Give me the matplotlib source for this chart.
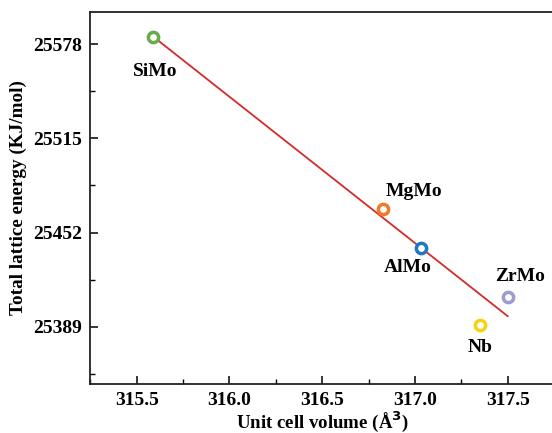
import matplotlib
matplotlib.use("Agg")
import matplotlib.pyplot as plt
from matplotlib.ticker import MultipleLocator, FixedLocator

# Data
names = ["SiMo", "MgMo", "AlMo", "ZrMo", "Nb"]
volume = [315.59, 316.83, 317.03, 317.50, 317.35]
energy = [25583.0, 25468.0, 25441.5, 25408.5, 25390.0]
colors = ["#6aab4c", "#f07a25", "#1f78c4", "#9d9bcf", "#f5d313"]
fit_x = [315.59, 317.50]
fit_y = [25583.0, 25396.0]
yticks = [25389, 25452, 25515, 25578]
xticks = [315.5, 316.0, 316.5, 317.0, 317.5]
label_offsets = [(1, -25), (22, 12), (-9, -14), (9, 15), (0, -16)]

plt.rcParams['font.family'] = ['Liberation Serif', 'DejaVu Serif']
plt.rcParams['font.weight'] = 'bold'

fig = plt.figure(figsize=(5.52, 4.33), dpi=100)
ax = fig.add_axes([90/552, (433-384)/433, (555-90)/552, (384-11.7)/433])

ax.plot(fit_x, fit_y, color="#d42a2a", lw=1.3, zorder=2)
for n, x, y, c, off in zip(names, volume, energy, colors, label_offsets):
    ax.plot([x], [y], 'o', ms=7.4, mfc='white', mec=c, mew=2.5, zorder=3)
    ax.annotate(n, (x, y), xytext=off, textcoords='offset points',
                ha='center', va='center', fontsize=14, fontweight='bold')

ax.set_xlim(315.248, 317.755)
ax.set_ylim(25350.6, 25599.8)
ax.xaxis.set_major_locator(FixedLocator(xticks))
ax.xaxis.set_minor_locator(MultipleLocator(0.25))
ax.yaxis.set_major_locator(FixedLocator(yticks))
ax.yaxis.set_minor_locator(FixedLocator([25357.5, 25420.5, 25483.5, 25546.5]))
ax.set_xticklabels([f"{v:.1f}" for v in xticks])
ax.set_yticklabels([str(v) for v in yticks])
ax.tick_params(which='major', direction='in', length=6, width=1.1, labelsize=14, pad=6)
ax.tick_params(which='minor', direction='in', length=3.5, width=1.0)
ax.tick_params(top=False, right=False, which='both')
for lab in ax.get_xticklabels() + ax.get_yticklabels():
    lab.set_fontweight('bold')
for s in ax.spines.values():
    s.set_linewidth(1.3)
    s.set_color('#222222')

ax.set_xlabel("Unit cell volume (Å$^\\mathbf{3}$)", fontsize=13.6, fontweight='bold', labelpad=0)
ax.set_ylabel("Total lattice energy (KJ/mol)", fontsize=13.8, fontweight='bold', labelpad=4)

fig.savefig("out.png", dpi=100)
